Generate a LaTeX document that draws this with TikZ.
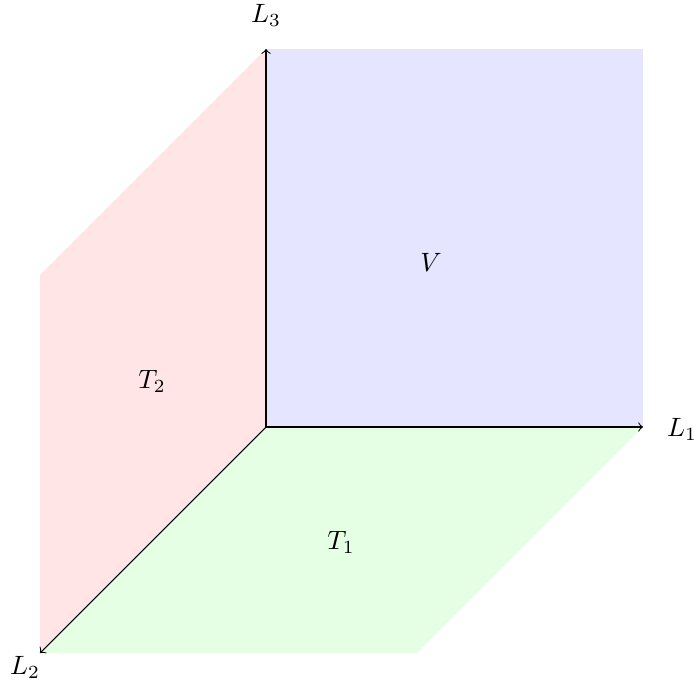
\documentclass[tikz,border=0pt]{standalone}
\begin{document}
\begin{tikzpicture}[x=0.3774pt,y=-0.3774pt,
  axis/.style={->,black},
  lbl/.style={inner sep=0pt}]
\useasboundingbox (0,0) rectangle (694,686);
\coordinate (O) at (266,427);
\coordinate (A1) at (643,427);
\coordinate (A3) at (266,49);
\coordinate (A2) at (40,653);
\fill[blue!10] (O) -- (A1) -- (643,49) -- (A3) -- cycle;
\fill[red!10] (O) -- (A2) -- (40,275) -- (A3) -- cycle;
\fill[green!10] (O) -- (A1) -- (417,653) -- (A2) -- cycle;
\draw[axis] (O) -- (A1);
\draw[axis] (O) -- (A3);
\draw[axis] (O) -- (A2);
\node[lbl] (l1) at (682,429) {$L_1$};
\node[lbl] (l3) at (266,15) {$L_3$};
\node[lbl] (l2) at (25,667) {$L_2$};
\node[lbl] (v) at (431,262) {$V$};
\node[lbl] (t2) at (152,381) {$T_2$};
\node[lbl] (t1) at (341,542) {$T_1$};
\end{tikzpicture}
\end{document}
